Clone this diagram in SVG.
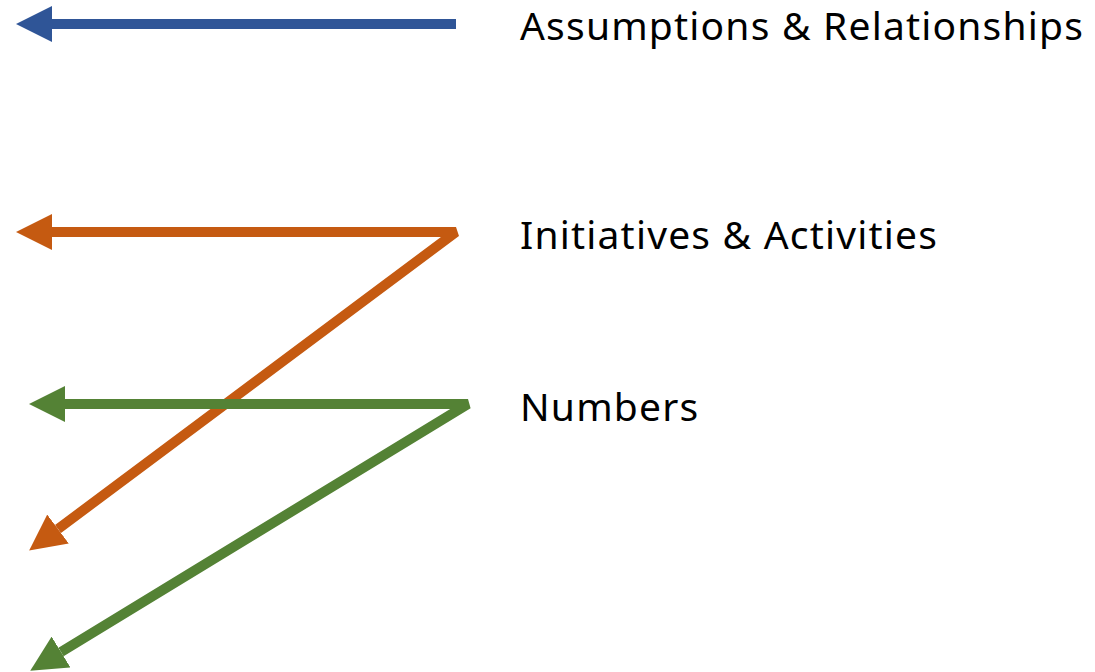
<svg xmlns="http://www.w3.org/2000/svg" width="1095" height="672" viewBox="0 0 1095 672">
<style>
.lbl{font-family:"Noto Sans","Open Sans",sans-serif;font-size:39px;letter-spacing:1.2px;fill:#000}
.ln{fill:none;stroke-width:10;stroke-linejoin:bevel}
</style>
<defs>
<marker id="hb" markerUnits="userSpaceOnUse" markerWidth="36" markerHeight="36" viewBox="0 0 36 36" refX="0" refY="18" orient="auto-start-reverse"><path d="M0,0 L36,18 L0,36 z" fill="#2F5597"/></marker>
<marker id="ho" markerUnits="userSpaceOnUse" markerWidth="36" markerHeight="36" viewBox="0 0 36 36" refX="0" refY="18" orient="auto-start-reverse"><path d="M0,0 L36,18 L0,36 z" fill="#C55A11"/></marker>
<marker id="hg" markerUnits="userSpaceOnUse" markerWidth="36" markerHeight="36" viewBox="0 0 36 36" refX="0" refY="18" orient="auto-start-reverse"><path d="M0,0 L36,18 L0,36 z" fill="#548235"/></marker>
</defs>
<g id="connectors">
<path class="ln" d="M456,24 L52,24" stroke="#2F5597" marker-end="url(#hb)"/>
<path class="ln" d="M52,232 L456,232 L58,529" stroke="#C55A11" marker-start="url(#ho)" marker-end="url(#ho)"/>
<path class="ln" d="M65,404 L468,404 L61,652" stroke="#548235" marker-start="url(#hg)" marker-end="url(#hg)"/>
</g>
<g id="label-assumptions"><text class="lbl" x="520" y="40">Assumptions &amp; Relationships</text></g>
<g id="label-initiatives"><text class="lbl" x="520" y="249">Initiatives &amp; Activities</text></g>
<g id="label-numbers"><text class="lbl" x="520" y="421">Numbers</text></g>
</svg>
